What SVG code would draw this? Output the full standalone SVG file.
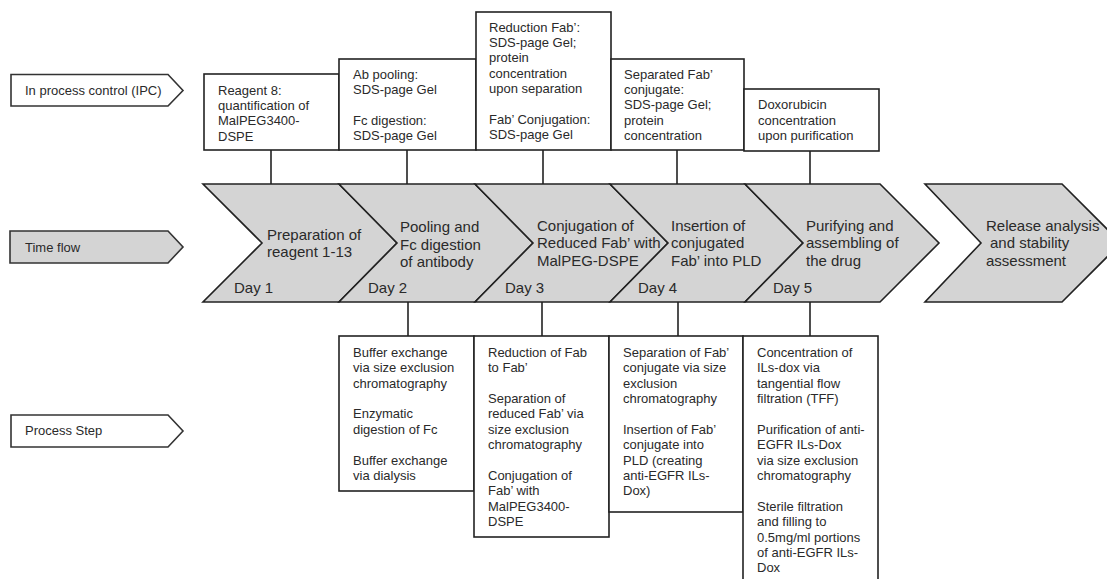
<svg xmlns="http://www.w3.org/2000/svg" width="1107" height="579" viewBox="0 0 1107 579">
<style>
  text { font-family: "Liberation Sans", Arial, sans-serif; fill: #2a2a2a; }
  .s { font-size: 13px; }
  .c { font-size: 15px; }
  .box { fill: #ffffff; stroke: #222; stroke-width: 1.6; }
  .chev { fill: #d4d4d4; stroke: #222; stroke-width: 1.6; stroke-linejoin: miter; }
  .lbl { stroke: #333; stroke-width: 1.6; }
  .conn line { stroke: #222; stroke-width: 1.6; }
</style>
<rect width="1107" height="579" fill="#ffffff"/>

<!-- Row labels -->
<g id="label-ipc">
  <polygon class="lbl" fill="#ffffff" points="11,74.5 168,74.5 183,90.5 168,106 11,106"/>
  <text class="s" x="25" y="95">In process control (IPC)</text>
</g>
<g id="label-time">
  <polygon class="lbl" fill="#d4d4d4" points="10,231 168,231 183,247 168,263 10,263"/>
  <text class="s" x="25" y="251.5">Time flow</text>
</g>
<g id="label-process">
  <polygon class="lbl" fill="#ffffff" points="11,415 168,415 183,431 168,447 11,447"/>
  <text class="s" x="25" y="435">Process Step</text>
</g>

<!-- Connectors -->
<g id="connectors" class="conn">
  <line x1="271" y1="150" x2="271" y2="184"/>
  <line x1="407" y1="150" x2="407" y2="184"/>
  <line x1="543" y1="150" x2="543" y2="184"/>
  <line x1="677" y1="150" x2="677" y2="184"/>
  <line x1="810" y1="151" x2="810" y2="184"/>
  <line x1="408" y1="302" x2="408" y2="336"/>
  <line x1="542" y1="302" x2="542" y2="336"/>
  <line x1="678" y1="302" x2="678" y2="336"/>
  <line x1="810" y1="302" x2="810" y2="336"/>
</g>

<!-- IPC boxes -->
<g id="ipc-1">
  <rect class="box" x="204" y="74" width="135" height="76"/>
  <text class="s"><tspan x="218" y="94.5">Reagent 8:</tspan><tspan x="218" y="109.9">quantification of</tspan><tspan x="218" y="125.3">MalPEG3400-</tspan><tspan x="218" y="140.7">DSPE</tspan></text>
</g>
<g id="ipc-2">
  <rect class="box" x="339" y="59" width="137" height="91"/>
  <text class="s"><tspan x="353" y="78.5">Ab pooling:</tspan><tspan x="353" y="93.9">SDS-page Gel</tspan><tspan x="353" y="124.7">Fc digestion:</tspan><tspan x="353" y="140.1">SDS-page Gel</tspan></text>
</g>
<g id="ipc-3">
  <rect class="box" x="476" y="12" width="135" height="138"/>
  <text class="s"><tspan x="489" y="31.5">Reduction Fab’:</tspan><tspan x="489" y="46.9">SDS-page Gel;</tspan><tspan x="489" y="62.3">protein</tspan><tspan x="489" y="77.7">concentration</tspan><tspan x="489" y="93.1">upon separation</tspan><tspan x="489" y="123.9">Fab’ Conjugation:</tspan><tspan x="489" y="139.3">SDS-page Gel</tspan></text>
</g>
<g id="ipc-4">
  <rect class="box" x="611" y="59" width="133" height="91"/>
  <text class="s"><tspan x="624" y="78.5">Separated Fab’</tspan><tspan x="624" y="93.9">conjugate:</tspan><tspan x="624" y="109.3">SDS-page Gel;</tspan><tspan x="624" y="124.7">protein</tspan><tspan x="624" y="140.1">concentration</tspan></text>
</g>
<g id="ipc-5">
  <rect class="box" x="744" y="89" width="135" height="62"/>
  <text class="s"><tspan x="758" y="109.3">Doxorubicin</tspan><tspan x="758" y="124.7">concentration</tspan><tspan x="758" y="140.1">upon purification</tspan></text>
</g>

<!-- Time flow chevrons -->
<g id="day-1">
  <polygon class="chev" points="203,184 339,184 397,243 339,302 203,302 262,243"/>
  <text class="c"><tspan x="267" y="239.5">Preparation of</tspan><tspan x="267" y="257">reagent 1-13</tspan></text>
  <text class="c" x="234" y="293">Day 1</text>
</g>
<g id="day-2">
  <polygon class="chev" points="339,184 475,184 533,243 475,302 339,302 397,243"/>
  <text class="c"><tspan x="400" y="232">Pooling and</tspan><tspan x="400" y="249.5">Fc digestion</tspan><tspan x="400" y="267">of antibody</tspan></text>
  <text class="c" x="368" y="293">Day 2</text>
</g>
<g id="day-3">
  <polygon class="chev" points="475,184 610,184 668,243 610,302 475,302 533,243"/>
  <text class="c"><tspan x="537" y="230.5">Conjugation of</tspan><tspan x="537" y="248">Reduced Fab’ with</tspan><tspan x="537" y="265.5">MalPEG-DSPE</tspan></text>
  <text class="c" x="505" y="293">Day 3</text>
</g>
<g id="day-4">
  <polygon class="chev" points="610,184 745,184 803,243 745,302 610,302 668,243"/>
  <text class="c"><tspan x="671" y="230.5">Insertion of</tspan><tspan x="671" y="248">conjugated</tspan><tspan x="671" y="265.5">Fab’ into PLD</tspan></text>
  <text class="c" x="638" y="293">Day 4</text>
</g>
<g id="day-5">
  <polygon class="chev" points="745,184 880,184 939,243 880,302 745,302 803,243"/>
  <text class="c"><tspan x="806" y="230.5">Purifying and</tspan><tspan x="806" y="248">assembling of</tspan><tspan x="806" y="265.5">the drug</tspan></text>
  <text class="c" x="773" y="293">Day 5</text>
</g>
<g id="release">
  <polygon class="chev" points="925,184 1062,184 1121,243 1062,302 925,302 981,243"/>
  <text class="c"><tspan x="986" y="230.5">Release analysis</tspan><tspan x="990" y="248">and stability</tspan><tspan x="986" y="265.5">assessment</tspan></text>
</g>

<!-- Process step boxes -->
<g id="step-2">
  <rect class="box" x="339" y="336" width="135" height="155"/>
  <text class="s"><tspan x="353" y="356.8">Buffer exchange</tspan><tspan x="353" y="372.2">via size exclusion</tspan><tspan x="353" y="387.6">chromatography</tspan><tspan x="353" y="418.4">Enzymatic</tspan><tspan x="353" y="433.8">digestion of Fc</tspan><tspan x="353" y="464.6">Buffer exchange</tspan><tspan x="353" y="480">via dialysis</tspan></text>
</g>
<g id="step-3">
  <rect class="box" x="474" y="336" width="135" height="201"/>
  <text class="s"><tspan x="488" y="356.8">Reduction of Fab</tspan><tspan x="488" y="372.2">to Fab’</tspan><tspan x="488" y="403">Separation of</tspan><tspan x="488" y="418.4">reduced Fab’ via</tspan><tspan x="488" y="433.8">size exclusion</tspan><tspan x="488" y="449.2">chromatography</tspan><tspan x="488" y="480">Conjugation of</tspan><tspan x="488" y="495.4">Fab’ with</tspan><tspan x="488" y="510.8">MalPEG3400-</tspan><tspan x="488" y="526.2">DSPE</tspan></text>
</g>
<g id="step-4">
  <rect class="box" x="609" y="336" width="134" height="176"/>
  <text class="s"><tspan x="623" y="356.8">Separation of Fab’</tspan><tspan x="623" y="372.2">conjugate via size</tspan><tspan x="623" y="387.6">exclusion</tspan><tspan x="623" y="403">chromatography</tspan><tspan x="623" y="433.8">Insertion of Fab’</tspan><tspan x="623" y="449.2">conjugate into</tspan><tspan x="623" y="464.6">PLD (creating</tspan><tspan x="623" y="480">anti-EGFR ILs-</tspan><tspan x="623" y="495.4">Dox)</tspan></text>
</g>
<g id="step-5">
  <rect class="box" x="743" y="336" width="135" height="260"/>
  <text class="s"><tspan x="757" y="356.8">Concentration of</tspan><tspan x="757" y="372.2">ILs-dox via</tspan><tspan x="757" y="387.6">tangential flow</tspan><tspan x="757" y="403">filtration (TFF)</tspan><tspan x="757" y="433.8">Purification of anti-</tspan><tspan x="757" y="449.2">EGFR ILs-Dox</tspan><tspan x="757" y="464.6">via size exclusion</tspan><tspan x="757" y="480">chromatography</tspan><tspan x="757" y="510.8">Sterile filtration</tspan><tspan x="757" y="526.2">and filling to</tspan><tspan x="757" y="541.6">0.5mg/ml portions</tspan><tspan x="757" y="557">of anti-EGFR ILs-</tspan><tspan x="757" y="572.4">Dox</tspan></text>
</g>
</svg>
